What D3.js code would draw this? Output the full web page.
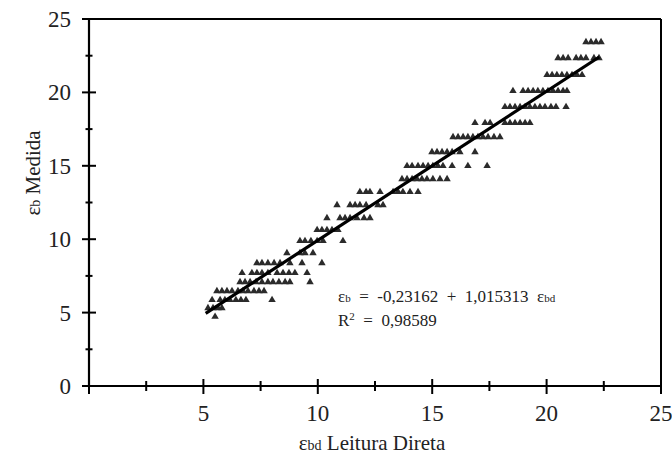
<!DOCTYPE html>
<html>
<head>
<meta charset="utf-8">
<script src="https://cdn.jsdelivr.net/npm/d3@7"></script>
<style>
  body { margin: 0; background: #fff; }
  svg text { font-family: "Liberation Serif", "DejaVu Serif", "Times New Roman", serif; fill: #222; }
</style>
</head>
<body>
<svg width="672" height="456"></svg>
<script>
let svg = d3.select("svg");

// data rows: each measured level (y) with its direct readings (x)
let row_levels = [4.72, 5.31, 5.86, 6.47, 7.08, 7.70, 8.38, 9.06, 9.88, 10.63, 11.44, 12.33,
  13.22, 14.10, 14.99, 15.94, 16.96, 17.92, 19.01, 20.10, 21.19, 22.34, 23.43];
let row_readings = [
  [5.51],
  [5.20, 5.42, 5.64, 5.81],
  [5.38, 5.73, 5.94, 6.16, 6.42, 6.64, 6.86, 8.00],
  [5.59, 5.81, 6.03, 6.25, 6.51, 6.73, 6.95, 7.21, 7.43, 7.65],
  [6.60, 6.82, 7.04, 7.30, 7.56, 7.82, 8.04, 8.30, 8.57, 8.78, 9.66],
  [6.69, 7.12, 7.34, 7.56, 7.82, 8.22, 8.48, 8.74, 9.00, 9.53],
  [7.34, 7.56, 7.82, 8.09, 8.35, 8.78, 9.31, 10.18],
  [8.65, 9.22, 9.44, 9.79],
  [9.22, 9.44, 9.70, 9.97, 10.23, 11.10],
  [9.97, 10.18, 10.40, 10.62, 10.88],
  [10.40, 10.97, 11.19, 11.41, 11.71, 12.02, 12.28],
  [10.84, 11.41, 11.63, 11.84, 12.11, 12.63, 12.85],
  [11.84, 12.11, 12.28, 12.72, 13.29, 13.51, 13.72, 14.03, 14.38],
  [13.68, 13.90, 14.12, 14.34, 14.55, 14.77, 15.03, 15.34, 15.65],
  [13.90, 14.12, 14.38, 14.60, 14.82, 15.03, 15.25, 15.47, 15.87, 16.56, 17.40],
  [14.99, 15.21, 15.43, 15.65, 15.87, 16.21, 16.87],
  [15.91, 16.13, 16.35, 16.56, 16.78, 17.00, 17.22, 17.44, 17.70, 17.96],
  [16.87, 17.31, 17.53, 18.18, 18.40, 18.62, 18.84, 19.06, 19.27],
  [18.18, 18.40, 18.62, 18.84, 19.06, 19.27, 19.49, 19.71, 19.93, 20.19, 20.41, 20.85],
  [18.53, 18.97, 19.19, 19.41, 19.62, 19.84, 20.06, 20.28, 20.50, 20.72, 20.89],
  [20.02, 20.24, 20.45, 20.67, 20.89, 21.11, 21.33, 21.55],
  [20.50, 20.72, 20.94, 21.29, 21.50, 21.72, 22.07, 22.29],
  [21.72, 21.94, 22.16, 22.38]
];

// regression fit
let fit_a = -0.23162;
let fit_b = 1.015313;
let fit_range = [5.1, 22.3];

let x_ticks = [0, 2.5, 5, 7.5, 10, 12.5, 15, 17.5, 20, 22.5, 25];
let y_ticks = [0, 2.5, 5, 7.5, 10, 12.5, 15, 17.5, 20, 22.5, 25];

let points = [];
row_levels.forEach((lv, i) => row_readings[i].forEach((r) => points.push({x: r, y: lv})));

let plot_left = 89, plot_right = 661, plot_top = 19, plot_bottom = 386;
let serif = "'Liberation Serif', 'DejaVu Serif', serif";

let x_scale = d3.scaleLinear().domain([0, 25]).range([plot_left, plot_right]);
let y_scale = d3.scaleLinear().domain([0, 25]).range([plot_bottom, plot_top]);

let is_major = (v) => v % 5 == 0;

// frame: top and right borders
svg.append("line")
  .attr("x1", plot_left).attr("x2", plot_right).attr("y1", plot_top).attr("y2", plot_top)
  .attr("stroke", "#000").attr("stroke-width", 2);
svg.append("line")
  .attr("x1", plot_right).attr("x2", plot_right).attr("y1", plot_top).attr("y2", plot_bottom)
  .attr("stroke", "#000").attr("stroke-width", 2);

// axes lines
svg.append("line")
  .attr("x1", plot_left).attr("x2", plot_right).attr("y1", plot_bottom).attr("y2", plot_bottom)
  .attr("stroke", "#000").attr("stroke-width", 2.2);
svg.append("line")
  .attr("x1", plot_left).attr("x2", plot_left).attr("y1", plot_top).attr("y2", plot_bottom)
  .attr("stroke", "#000").attr("stroke-width", 2.2);

// ticks crossing the axes
svg.append("g").selectAll("line")
  .data(x_ticks)
  .enter().append("line")
    .attr("x1", (d) => x_scale(d)).attr("x2", (d) => x_scale(d))
    .attr("y1", (d) => plot_bottom - (is_major(d) ? 7 : 5))
    .attr("y2", (d) => plot_bottom + (is_major(d) ? 8 : 5))
    .attr("stroke", "#000").attr("stroke-width", 2);
svg.append("g").selectAll("line")
  .data(y_ticks)
  .enter().append("line")
    .attr("y1", (d) => y_scale(d)).attr("y2", (d) => y_scale(d))
    .attr("x1", (d) => plot_left - (is_major(d) ? 7 : 3.5))
    .attr("x2", (d) => plot_left + (is_major(d) ? 7 : 3.5))
    .attr("stroke", "#000").attr("stroke-width", 2);

// tick labels
svg.append("g").selectAll("text")
  .data(x_ticks.filter((d) => is_major(d) && d > 0))
  .enter().append("text")
    .attr("x", (d) => x_scale(d))
    .attr("y", 421)
    .attr("text-anchor", "middle")
    .attr("font-family", serif)
    .style("font-size", "23px")
    .text((d) => d);
svg.append("g").selectAll("text")
  .data(y_ticks.filter(is_major))
  .enter().append("text")
    .attr("x", 71)
    .attr("y", (d) => y_scale(d) + 8)
    .attr("text-anchor", "end")
    .attr("font-family", serif)
    .style("font-size", "23px")
    .text((d) => d);

// axis titles
let x_title = svg.append("text")
  .attr("x", 372).attr("y", 450)
  .attr("text-anchor", "middle")
  .attr("font-family", serif)
  .style("font-size", "21px");
x_title.append("tspan").text("ε");
x_title.append("tspan").style("font-size", "14px").text("bd");
x_title.append("tspan").text(" Leitura Direta");

let y_title = svg.append("text")
  .attr("transform", "translate(40,173) rotate(-90)")
  .attr("text-anchor", "middle")
  .attr("font-family", serif)
  .style("font-size", "21px");
y_title.append("tspan").text("ε");
y_title.append("tspan").style("font-size", "14px").text("b");
y_title.append("tspan").text(" Medida");

// points
svg.append("g").selectAll("path")
  .data(points)
  .enter().append("path")
    .attr("d", d3.symbol().type(d3.symbolTriangle).size(24))
    .attr("transform", (d) => "translate(" + x_scale(d.x) + "," + y_scale(d.y) + ")")
    .attr("fill", "#2b2b2b");

// regression line
svg.append("line")
  .attr("x1", x_scale(fit_range[0])).attr("y1", y_scale(fit_a + fit_b * fit_range[0]))
  .attr("x2", x_scale(fit_range[1])).attr("y2", y_scale(fit_a + fit_b * fit_range[1]))
  .attr("stroke", "#000").attr("stroke-width", 3.2);

// equation
let eq = svg.append("text")
  .attr("x", 338).attr("y", 302)
  .attr("font-family", serif)
  .style("font-size", "17px")
  .style("white-space", "pre");
eq.append("tspan").text("ε");
eq.append("tspan").style("font-size", "11px").text("b");
eq.append("tspan").text("  =  -0,23162  +  1,015313  ε");
eq.append("tspan").style("font-size", "11px").text("bd");

let r2 = svg.append("text")
  .attr("x", 338).attr("y", 326)
  .attr("font-family", serif)
  .style("font-size", "17px")
  .style("white-space", "pre");
r2.append("tspan").text("R");
r2.append("tspan").style("font-size", "11px").attr("dy", -6).text("2");
r2.append("tspan").attr("dy", 6).text("  =  0,98589");
</script>
</body>
</html>
